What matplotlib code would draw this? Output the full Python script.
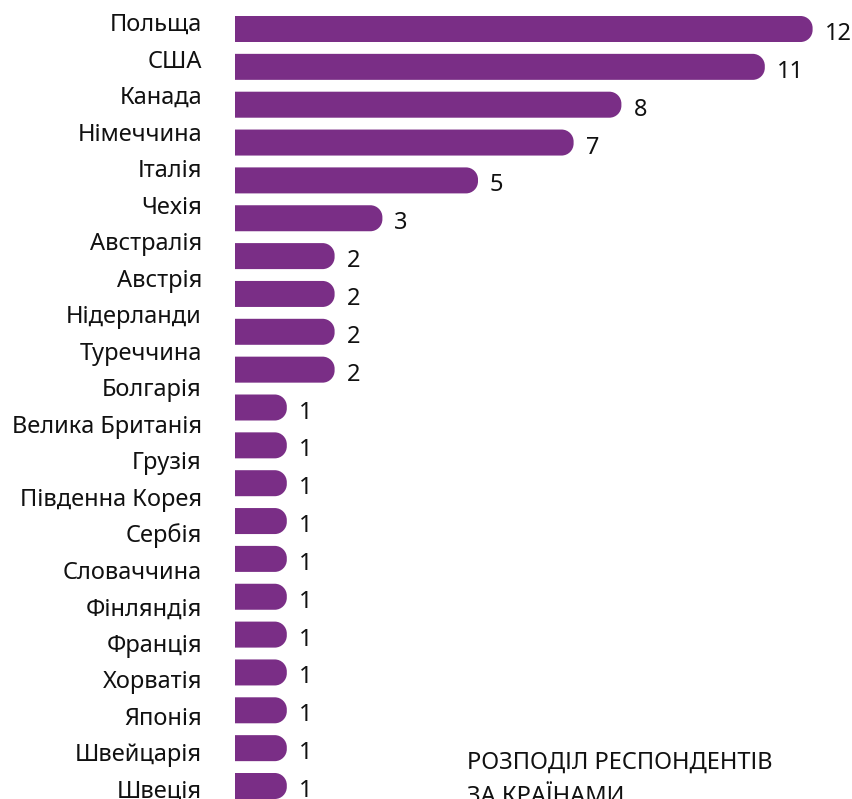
import matplotlib
matplotlib.use("Agg")
import matplotlib.pyplot as plt
from matplotlib.path import Path
from matplotlib.patches import PathPatch

countries = ["Польща", "США", "Канада", "Німеччина", "Італія", "Чехія",
             "Австралія", "Австрія", "Нідерланди", "Туреччина", "Болгарія",
             "Велика Британія", "Грузія", "Південна Корея", "Сербія",
             "Словаччина", "Фінляндія", "Франція", "Хорватія", "Японія",
             "Швейцарія", "Швеція"]
values = [12, 11, 8, 7, 5, 3, 2, 2, 2, 2, 1, 1, 1, 1, 1, 1, 1, 1, 1, 1, 1, 1]
title_lines = ["РОЗПОДІЛ РЕСПОНДЕНТІВ", "ЗА КРАЇНАМИ"]

W, H = 853, 799
DPI = 100
BAR_COLOR = "#7a2e86"
FONT = "Noto Sans"
FS = 17.0

fig = plt.figure(figsize=(W / DPI, H / DPI), dpi=DPI)

# pixel geometry
px_per_unit = 47.8
x0_px = 239.0
bar_pitch = 37.85
bar_top_c = 29.0
bar_h_px = 26.0
r_px = 12.0

ax_left_px = 215.0
ax = fig.add_axes([ax_left_px / W, 0, 1 - ax_left_px / W, 1])
ax.set_xlim((ax_left_px - x0_px) / px_per_unit, (W - x0_px) / px_per_unit)
ax.set_ylim((H - bar_top_c) / bar_pitch, -bar_top_c / bar_pitch)
ax.axis("off")

rx = r_px / px_per_unit
ry = r_px / bar_pitch
hh = bar_h_px / 2 / bar_pitch
left = -4.0 / px_per_unit
k = 0.5523

def rounded_bar(y, x1):
    yt, yb = y - hh, y + hh
    verts = [
        (left, yt),
        (x1 - rx, yt),
        (x1 - rx + k * rx, yt), (x1, yt + ry - k * ry), (x1, yt + ry),
        (x1, yb - ry),
        (x1, yb - ry + k * ry), (x1 - rx + k * rx, yb), (x1 - rx, yb),
        (left, yb),
        (left, yt),
    ]
    codes = [Path.MOVETO, Path.LINETO,
             Path.CURVE4, Path.CURVE4, Path.CURVE4,
             Path.LINETO,
             Path.CURVE4, Path.CURVE4, Path.CURVE4,
             Path.LINETO, Path.CLOSEPOLY]
    return Path(verts, codes)

for i, v in enumerate(values):
    ax.add_patch(PathPatch(rounded_bar(i, v), facecolor=BAR_COLOR,
                           edgecolor="none", clip_on=True))
    ax.text(v + 12.0 / px_per_unit, i + 11.0 / bar_pitch, str(v),
            ha="left", va="baseline", fontsize=FS, family=FONT, color="#111111")

# country labels column
lab_first_base = 31.0
lab_pitch = 36.52
ax2 = fig.add_axes([0, 0, 1, 1])
ax2.set_xlim(0, W)
ax2.set_ylim((H - lab_first_base) / lab_pitch, -lab_first_base / lab_pitch)
ax2.axis("off")
for j, c in enumerate(countries):
    ax2.text(202, j, c, ha="right", va="baseline", fontsize=FS,
             family=FONT, color="#111111")

# title (cropped at bottom)
fig.text(467 / W, 1 - 769 / H, title_lines[0], ha="left", va="baseline",
         fontsize=FS, family=FONT, color="#111111")
fig.text(467 / W, 1 - 803 / H, title_lines[1], ha="left", va="baseline",
         fontsize=FS, family=FONT, color="#111111")

fig.savefig("out.png", dpi=DPI)
